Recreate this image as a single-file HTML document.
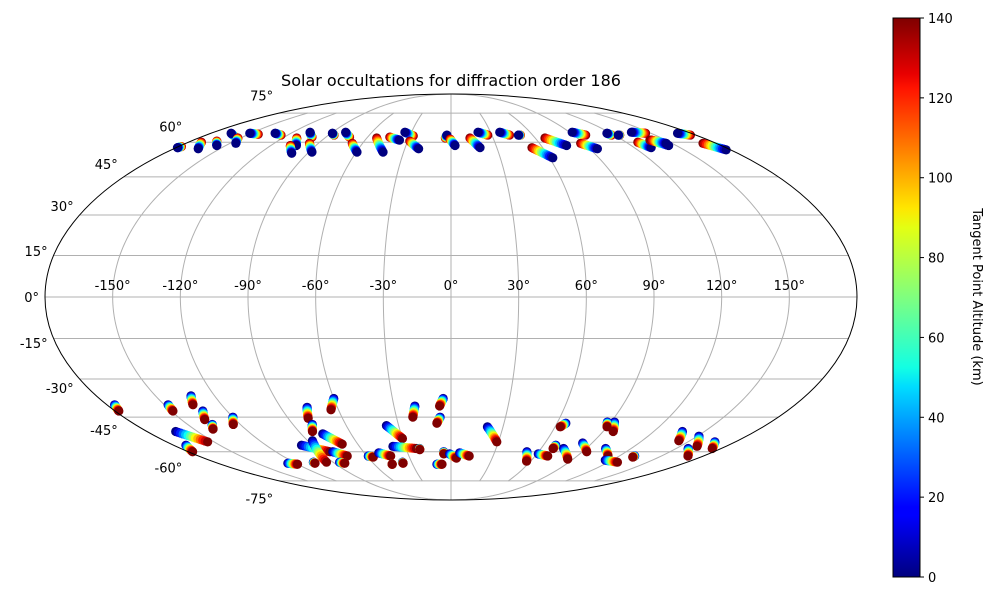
<!DOCTYPE html>
<html><head><meta charset="utf-8"><style>
html,body{margin:0;padding:0;background:#fff;}
svg{display:block;font-family:"DejaVu Sans","Liberation Sans",sans-serif;}
</style></head><body>
<svg id="chart" width="1000" height="600" viewBox="0 0 1000 600">
<defs>
<linearGradient id="jet" x1="0" y1="1" x2="0" y2="0">
<stop offset="0" stop-color="#00007f"/><stop offset="0.11" stop-color="#0000ff"/>
<stop offset="0.125" stop-color="#0000ff"/><stop offset="0.34" stop-color="#00dcff"/>
<stop offset="0.375" stop-color="#13ffe3"/><stop offset="0.5" stop-color="#7fff7f"/>
<stop offset="0.625" stop-color="#e3ff13"/><stop offset="0.66" stop-color="#ffe600"/>
<stop offset="0.875" stop-color="#ff1300"/><stop offset="0.9" stop-color="#e80000"/><stop offset="1" stop-color="#7f0000"/>
</linearGradient>
</defs>
<text x="451" y="86" text-anchor="middle" font-size="16">Solar occultations for diffraction order 186</text>
<g id="grid"></g>
<g id="marks"></g>
<ellipse cx="451" cy="297" rx="406" ry="203" fill="none" stroke="#000" stroke-width="1"/>
<g id="labels" font-size="13"></g>
<rect x="893" y="18" width="27" height="559" fill="url(#jet)" stroke="#000" stroke-width="1"/>
<g id="cbticks" font-size="13"></g>
<text transform="translate(973,297) rotate(90)" text-anchor="middle" font-size="13">Tangent Point Altitude (km)</text>
</svg>
<script>
// blue (low altitude) end and red (high altitude) end of each occultation track, degrees
const startLon = [-179,-164,-156,-165,-146,-151,-132,-103,-100,-107,-88,-89,-80,-59.5,-43,-35,-36,-21,-3,2.7,19,20.5,37,49.6,62,77,92,95,117,123,137,131,145,170,177,146,
 -176,-148,-132,-133,-136,-120,-163,-172,-76,-60,-79,-77,-97,-87,-105,-81,-85,-126,-37,-38,-59,-50,-46,-37,-19,-4,-6,21,65,92,88,137,151,167,158,-21,-5,-11,-1,6,52,61,68,75,84,103,115,131];
const startLat = [57.5,57,58.5,64.3,59.5,64.3,64.3,58.5,55,64.8,55.5,64.3,64.8,55.5,55.5,64.8,61,57,63.4,58.5,57.5,64.8,64.8,63.4,53,58.5,64.8,57,64.3,63.4,64.8,57.5,58.5,64.3,56.5,59.5,
 -40,-40,-36.5,-42.5,-48,-45,-51,-57,-41,-37.5,-48,-52,-57,-55,-65,-60,-65,-65.5,-48.5,-57.5,-62,-60.5,-66,-65,-40.5,-37.5,-45,-49,-47.5,-47,-47,-51,-53,-55.5,-58.5,-58.5,-60,-66,-61,-60.5,-60,-61,-57,-58.5,-56,-58.5,-64,-62];
const endLon = [-178,-171,-162,-155,-152,-143,-125,-110,-107,-100,-96,-86,-73,-67,-53,-27.5,-44,-28.5,-4,-0.7,13.5,27,43,51,53,67,99,88,118,124,146,128,139,176,171,140,
 -178,-149,-135,-137,-139,-124,-154,-177,-79,-64,-82,-70,-83,-95,-105,-74,-82,-120,-30,-23,-56,-43,-46,-37,-21,-6,-8,29,63,96,90,143,161,174,169,-21,-5,-7,4,13,57,69,68,86,93,112,127,131];
const endLat = [58,60,60.5,62.4,62,63.8,63.4,62,58.5,62.4,59.5,63.4,62.4,59.5,62,63,62.4,60.5,62,61.5,62,63.4,63.4,63.4,57.5,62,63.4,59.5,63.4,63.4,64.3,60,61,63.4,59.5,61,
 -42.5,-42.5,-40,-46,-50,-48,-55.5,-60,-45.5,-42,-51,-56.5,-60,-65,-65.5,-62,-65.5,-66,-54,-58.5,-62.5,-62,-66,-65.5,-45,-40.5,-47.5,-55.5,-49,-51,-49,-55,-57.5,-58.5,-62,-59,-61,-66,-63,-62,-64.5,-62,-58.5,-63.5,-60,-62,-65,-62.5];
const altTicks = [0,20,40,60,80,100,120,140];
const lonTicks = [-150,-120,-90,-60,-30,0,30,60,90,120,150];
const latTicks = [-75,-60,-45,-30,-15,0,15,30,45,60,75];

const CX=451, CY=297, RX=406, RY=203, ALT_MAX=140, NPTS=14;
const NS='http://www.w3.org/2000/svg';
function proj(lon,lat){
  const phi=lat*Math.PI/180; let th=phi;
  if(Math.abs(lat)<90){
    for(let i=0;i<30;i++){const f=2*th+Math.sin(2*th)-Math.PI*Math.sin(phi);const d=2+2*Math.cos(2*th);if(Math.abs(d)<1e-9)break;th-=f/d;}
  } else th=Math.sign(lat)*Math.PI/2;
  return [CX+RX*(lon/180)*Math.cos(th), CY-RY*Math.sin(th)];
}
function jet(t){
  const c=v=>Math.round(255*Math.max(0,Math.min(1,v)));
  return `rgb(${c(1.5-Math.abs(4*t-3))},${c(1.5-Math.abs(4*t-2))},${c(1.5-Math.abs(4*t-1))})`;
}
const grid=document.getElementById('grid');
latTicks.forEach(lat=>{
  const a=proj(-180,lat), b=proj(180,lat);
  const l=document.createElementNS(NS,'line');
  l.setAttribute('x1',a[0]);l.setAttribute('y1',a[1]);l.setAttribute('x2',b[0]);l.setAttribute('y2',b[1]);
  l.setAttribute('stroke','#b0b0b0');l.setAttribute('stroke-width','1');
  
  
  grid.appendChild(l);
});
lonTicks.forEach(lon=>{
  const cap = (lon%90===0)?90:75;
  let d='';
  for(let lat=-cap;lat<=cap;lat+=1){const p=proj(lon,lat);d+=(d?'L':'M')+p[0].toFixed(2)+','+p[1].toFixed(2);}
  const pth=document.createElementNS(NS,'path');
  pth.setAttribute('d',d);pth.setAttribute('fill','none');pth.setAttribute('stroke','#b0b0b0');pth.setAttribute('stroke-width','1');
  
  
  grid.appendChild(pth);
});
const labels=document.getElementById('labels');
lonTicks.forEach(lon=>{
  const p=proj(lon,0);
  const t=document.createElementNS(NS,'text');
  t.setAttribute('x',p[0]);t.setAttribute('y',p[1]-7);t.setAttribute('text-anchor','middle');
  t.textContent=lon+'°';
  
  
  labels.appendChild(t);
});
latTicks.forEach(lat=>{
  const p=proj(-180,lat);
  const s=Math.sin(lat*Math.PI/180);
  const t=document.createElementNS(NS,'text');
  t.setAttribute('x',p[0]-6);t.setAttribute('y',p[1]+5-18*s);t.setAttribute('text-anchor','end');
  t.textContent=lat+'°';
  
  
  labels.appendChild(t);
});
const marks=document.getElementById('marks');
for(let k=0;k<startLon.length;k++){
  const g=document.createElementNS(NS,'g');
  
  
  const north=startLat[k]>0;
  for(let i=0;i<NPTS;i++){
    const j = north ? (NPTS-1-i) : i;
    const f=j/(NPTS-1);
    const alt=f*ALT_MAX;
    const p=proj(startLon[k]+(endLon[k]-startLon[k])*f, startLat[k]+(endLat[k]-startLat[k])*f);
    const c=document.createElementNS(NS,'circle');
    c.setAttribute('cx',p[0].toFixed(2));c.setAttribute('cy',p[1].toFixed(2));c.setAttribute('r','4.6');
    c.setAttribute('fill',jet(alt/ALT_MAX));
    
    
    g.appendChild(c);
  }
  marks.appendChild(g);
}
const cb=document.getElementById('cbticks');
altTicks.forEach(v=>{
  const y=577-(v/ALT_MAX)*559;
  const l=document.createElementNS(NS,'line');
  l.setAttribute('x1',920);l.setAttribute('x2',924);l.setAttribute('y1',y);l.setAttribute('y2',y);l.setAttribute('stroke','#000');
  
  
  cb.appendChild(l);
  const t=document.createElementNS(NS,'text');
  t.setAttribute('x',928);t.setAttribute('y',y+5);t.textContent=v;
  
  
  cb.appendChild(t);
});
</script>
</body></html>
